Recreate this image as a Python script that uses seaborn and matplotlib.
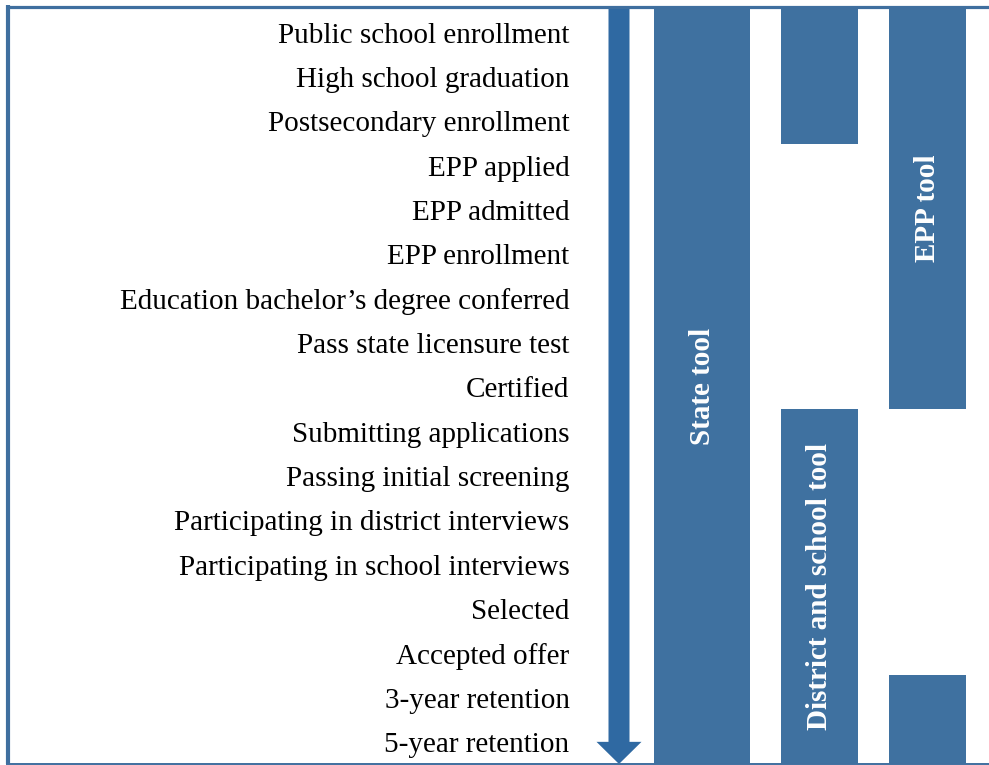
import matplotlib
matplotlib.use("Agg")
import matplotlib.pyplot as plt
from matplotlib.lines import Line2D
import seaborn as sns
import pandas as pd

# --------------------------
# Data
# --------------------------
stages = [
    "Public school enrollment",
    "High school graduation",
    "Postsecondary enrollment",
    "EPP applied",
    "EPP admitted",
    "EPP enrollment",
    "Education bachelor\u2019s degree conferred",
    "Pass state licensure test",
    "Certified",
    "Submitting applications",
    "Passing initial screening",
    "Participating in district interviews",
    "Participating in school interviews",
    "Selected",
    "Accepted offer",
    "3-year retention",
    "5-year retention",
]

tools = ["State tool", "District and school tool", "EPP tool"]

# stage range covered by each block (first and last stage index)
seg_tool = ["State tool", "District and school tool", "District and school tool", "EPP tool", "EPP tool"]
seg_first = [0, 0, 9, 0, 15]
seg_last = [16, 2, 16, 8, 16]
seg_label = [True, False, True, True, False]

segments = pd.DataFrame({
    "tool": seg_tool,
    "first": seg_first,
    "last": seg_last,
    "label": seg_label,
})

# --------------------------
# Layout / style
# --------------------------
W, H = 989, 765
tool_x = {"State tool": 122, "District and school tool": 239.5, "EPP tool": 347.5}
tool_w = {"State tool": 96, "District and school tool": 77, "EPP tool": 77}
top_edge = -0.56
bar_color = "#3F71A0"
arrow_color = "#2F69A2"
frame_color = "#3F6F9F"

sns.set_theme(style="white")
plt.rcParams["font.family"] = ["Liberation Serif", "DejaVu Serif"]

fig = plt.figure(figsize=(W / 100, H / 100), dpi=100)
ax = fig.add_axes([580 / W, 1 / H, 409 / W, 756 / H])

# --------------------------
# Blocks
# --------------------------
for _, s in segments.iterrows():
    top = top_edge if s["first"] == 0 else s["first"] - 0.5
    bottom = s["last"] + 0.5
    ax.bar(tool_x[s["tool"]], bottom - top, bottom=top,
           width=tool_w[s["tool"]], color=bar_color, linewidth=0)
    if s["label"]:
        ax.text(tool_x[s["tool"]], (top + bottom) / 2, s["tool"],
                rotation=90, ha="center", va="center", color="white",
                fontsize=21, fontweight="bold")

# --------------------------
# Pipeline arrow
# --------------------------
ax.arrow(39, top_edge, 0, len(stages) - 0.5 - top_edge, width=21, head_width=45,
         head_length=0.5, length_includes_head=True,
         color=arrow_color, linewidth=0)

# --------------------------
# Axes
# --------------------------
ax.set_xlim(0, 409)
ax.set_ylim(len(stages) - 0.5, top_edge)
ax.set_yticks(range(len(stages)))
ax.set_yticklabels(stages, fontsize=21, color="black")
ax.set_xticks([])
ax.tick_params(axis="y", length=0, pad=7.5)
for sp in ax.spines.values():
    sp.set_visible(False)
ax.patch.set_alpha(0)

# --------------------------
# Frame
# --------------------------
fig.add_artist(Line2D([8 / W, 8 / W], [1 - 5 / H, 1 / H], transform=fig.transFigure,
                      color=frame_color, linewidth=3, solid_capstyle="butt"))
fig.add_artist(Line2D([6 / W, 1], [1 - 6.5 / H, 1 - 6.5 / H], transform=fig.transFigure,
                      color=frame_color, linewidth=2.3, solid_capstyle="butt"))
fig.add_artist(Line2D([6 / W, 1], [1.2 / H, 1.2 / H], transform=fig.transFigure,
                      color=frame_color, linewidth=1.4, solid_capstyle="butt"))

fig.savefig("out.png", dpi=100)
